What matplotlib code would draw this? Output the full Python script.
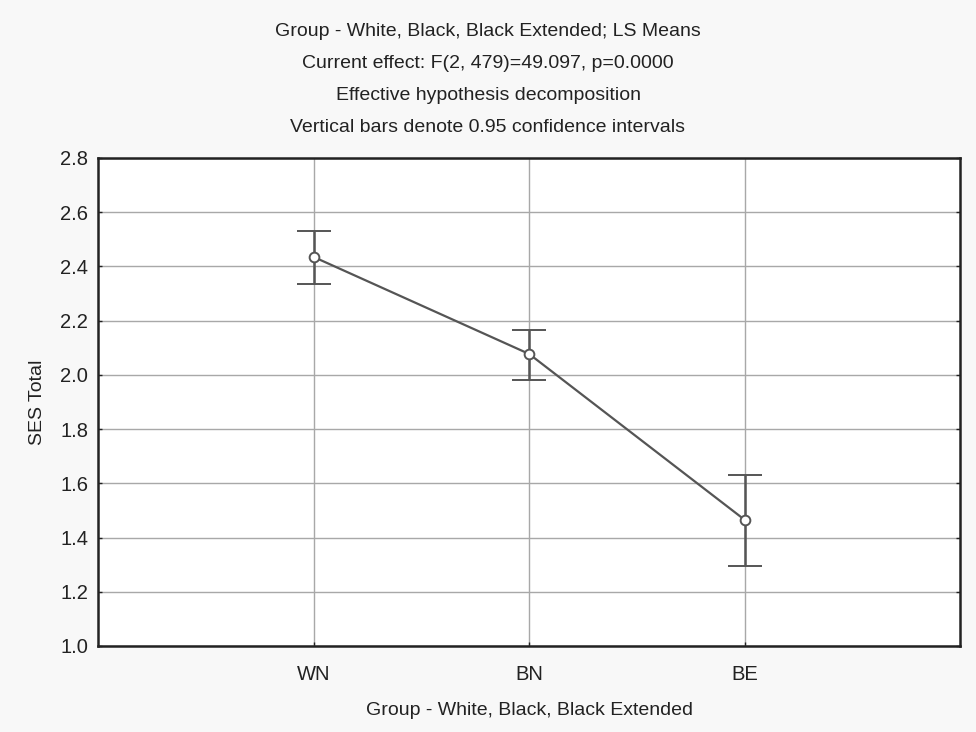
import numpy as np
import matplotlib.pyplot as plt

# --- Data (LS means with 0.95 CI) ---
groups = ['WN', 'BN', 'BE']
means = [2.435, 2.077, 1.465]
ci_low = [2.335, 1.981, 1.295]
ci_high = [2.531, 2.164, 1.631]
y_ticks = [1.0, 1.2, 1.4, 1.6, 1.8, 2.0, 2.2, 2.4, 2.6, 2.8]

title_lines = [
    'Group - White, Black, Black Extended; LS Means',
    'Current effect: F(2, 479)=49.097, p=0.0000',
    'Effective hypothesis decomposition',
    'Vertical bars denote 0.95 confidence intervals',
]

plt.rcParams['font.family'] = ['Liberation Sans', 'DejaVu Sans']

fig = plt.figure(figsize=(9.76, 7.32), dpi=100, facecolor='#f8f8f8')
ax = fig.add_axes([0.1004, 0.1175, 0.8836, 0.6667])
ax.set_facecolor('white')

x = np.arange(1, len(groups) + 1)
m = np.array(means)
yerr = np.array([m - np.array(ci_low), np.array(ci_high) - m])

line_col = '#555555'
ax.errorbar(x, m, yerr=yerr, color=line_col, lw=1.6, elinewidth=1.8,
            capsize=12, capthick=1.8, marker='o', ms=7, mfc='white',
            mec=line_col, mew=1.4, zorder=3)

ax.set_xlim(0, 4)
ax.set_ylim(1.0, 2.8)
ax.set_xticks(x)
ax.set_xticklabels(groups)
ax.set_yticks(y_ticks)
ax.set_yticklabels([f'{v:.1f}' for v in y_ticks])
ax.grid(True, color='#a8a8a8', lw=1.0)
ax.set_axisbelow(True)

for s in ax.spines.values():
    s.set_color('#222222')
    s.set_linewidth(1.8)

ax.tick_params(direction='in', length=3, width=1, colors='#222222',
               labelsize=14.5, right=True, pad=7)
ax.tick_params(axis='x', pad=14)

ax.set_ylabel('SES Total', fontsize=14, color='#222222', labelpad=10)
ax.set_xlabel('Group - White, Black, Black Extended', fontsize=14,
              color='#222222', labelpad=13)

for i, t in enumerate(title_lines):
    fig.text(0.5, 1 - (31 + 32 * i) / 732, t, ha='center', va='center',
             fontsize=14, color='#222222')

fig.savefig('out.png', dpi=100, facecolor=fig.get_facecolor())
